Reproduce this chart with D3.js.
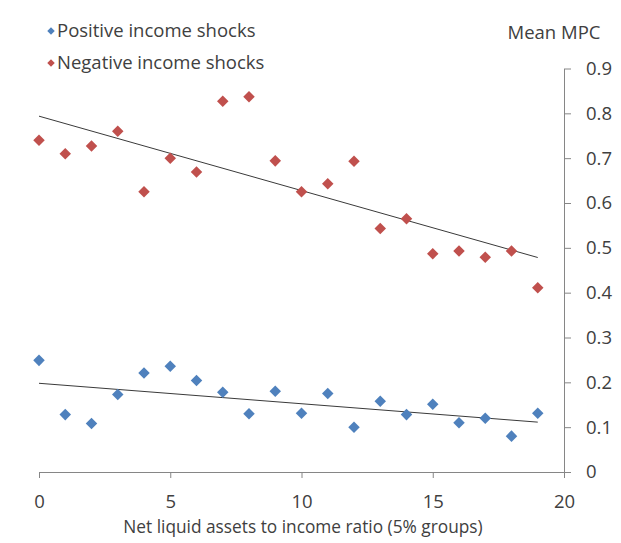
<!DOCTYPE html>
<html><head><meta charset="utf-8">
<script src="https://cdn.jsdelivr.net/npm/d3@7"></script>
<style>body{margin:0;background:#fff}svg{display:block}text{font-family:"Open Sans",Lato,sans-serif;fill:#404040}</style>
</head><body><svg id="c" width="621" height="543"></svg>
<script>
const groups = d3.range(0, 20);
const positive = [0.249,0.128,0.108,0.173,0.221,0.236,0.204,0.178,0.130,0.180,0.131,0.175,0.100,0.158,0.128,0.151,0.110,0.120,0.080,0.131];
const negative = [0.740,0.710,0.727,0.760,0.625,0.700,0.669,0.827,0.837,0.694,0.625,0.643,0.693,0.543,0.565,0.487,0.493,0.479,0.493,0.411];
const xTicks = [0,5,10,15,20];
const yTicks = [0,0.1,0.2,0.3,0.4,0.5,0.6,0.7,0.8,0.9];
const seriesNames = ["Positive income shocks","Negative income shocks"];
const colors = ["#4F81BD","#C0504D"];

const svg = d3.select("#c");
const x = d3.scaleLinear().domain([0,20]).range([39,564]);
const y = d3.scaleLinear().domain([0,0.9]).range([472,68.5]);
const FF = '"Open Sans",Lato,sans-serif';

// axes
const xa = svg.append("g").attr("transform",`translate(0,${y(0)})`)
  .call(d3.axisBottom(x).tickValues(xTicks).tickSize(6).tickPadding(17).tickSizeOuter(0));
xa.select(".domain").attr("stroke","#868686");
xa.selectAll(".tick line").attr("stroke","#868686");
xa.selectAll(".tick text").attr("font-size",18.5).style("font-family",FF).attr("fill","#404040");

const ya = svg.append("g").attr("transform",`translate(${x(20)},0)`)
  .call(d3.axisRight(y).tickValues(yTicks).tickSize(7).tickPadding(15).tickSizeOuter(0).tickFormat(d=>d===0?"0":d3.format(".1f")(d)));
ya.select(".domain").attr("stroke","#868686");
ya.selectAll(".tick line").attr("stroke","#868686");
ya.selectAll(".tick text").attr("font-size",18.5).style("font-family",FF).attr("fill","#404040");

// trendlines (least squares)
function fit(vals){
  const mx=d3.mean(groups), my=d3.mean(vals);
  let sxy=0,sxx=0; groups.forEach((g,i)=>{sxy+=(g-mx)*(vals[i]-my);sxx+=(g-mx)*(g-mx);});
  const b=sxy/sxx, a=my-b*mx; return g=>a+b*g;
}
[positive,negative].forEach(vals=>{
  const f=fit(vals);
  svg.append("line").attr("x1",x(0)).attr("y1",y(f(0))).attr("x2",x(19)).attr("y2",y(f(19)))
    .attr("stroke","#3a3a3a").attr("stroke-width",1);
});

// markers
const diamond = d3.symbol().type(d3.symbolDiamond2).size(85);
[positive,negative].forEach((vals,k)=>{
  svg.append("g").selectAll("path").data(vals).join("path")
    .attr("d",diamond).attr("transform",(d,i)=>`translate(${x(groups[i])},${y(d)})`)
    .attr("fill",colors[k]);
});

// legend
const legSym = d3.symbol().type(d3.symbolDiamond2).size(36);
seriesNames.forEach((s,k)=>{
  const ly = 31 + k*32;
  svg.append("path").attr("d",legSym).attr("transform",`translate(51,${ly})`).attr("fill",colors[k]);
  svg.append("text").attr("x",57).attr("y",ly).attr("dy","0.35em").attr("font-size",18.5).text(s);
});

svg.append("text").attr("x",554).attr("y",33).attr("dy","0.35em").attr("text-anchor","middle").attr("font-size",18.5).text("Mean MPC");
svg.append("text").attr("x",303).attr("y",527).attr("dy","0.35em").attr("text-anchor","middle").attr("font-size",17.3).text("Net liquid assets to income ratio (5% groups)");
</script></body></html>
